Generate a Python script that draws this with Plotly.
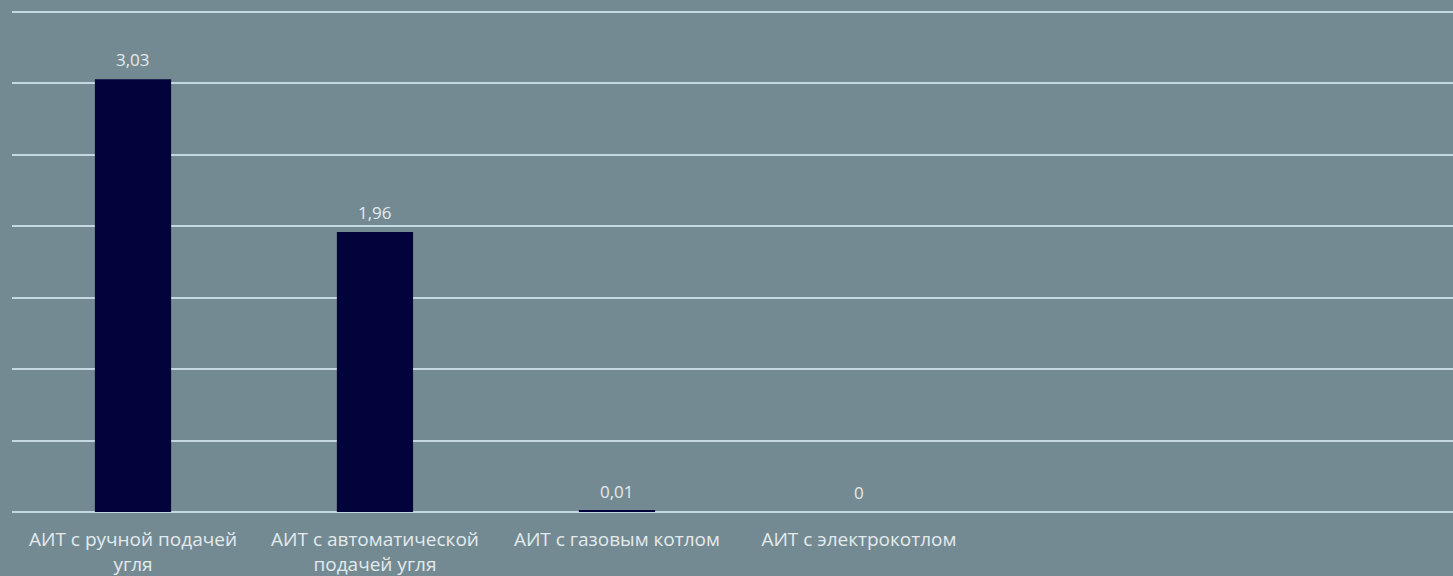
import plotly.graph_objects as go

categories = ["АИТ с ручной подачей<br>угля", "АИТ с автоматической<br>подачей угля",
              "АИТ с газовым котлом", "АИТ с электрокотлом"]
values = [3.03, 1.96, 0.01, 0]
labels = ["3,03", "1,96", "0,01", "0"]

BG = "#748a92"
TXT = "#e3eaed"
GRID = "#c4d8e2"

fig = go.Figure()
fig.add_trace(go.Bar(x=categories, y=values, width=0.315,
                     marker=dict(color="#01033a", line=dict(width=0)),
                     hoverinfo="skip"))
for c, v, t in zip(categories, values, labels):
    fig.add_annotation(x=c, y=v, text=t, showarrow=False, yanchor="bottom",
                       yshift=6, font=dict(family="Open Sans", size=17, color=TXT))

fig.update_layout(
    width=1453, height=576,
    margin=dict(l=12, r=0, t=0, b=64),
    paper_bgcolor=BG, plot_bgcolor=BG,
    showlegend=False,
    font=dict(family="Open Sans", size=19, color=TXT),
    xaxis=dict(range=[-0.5, 5.455], showgrid=False, zeroline=False, showline=False,
               ticks="outside", ticklen=10, tickcolor="rgba(0,0,0,0)",
               tickfont=dict(family="Open Sans", size=19, color=TXT)),
    yaxis=dict(range=[0, 3.584], dtick=0.5, showgrid=True, gridcolor=GRID,
               gridwidth=2, zeroline=True, zerolinecolor=GRID, zerolinewidth=2,
               showticklabels=False, showline=False),
)
fig.write_html("out.html")
